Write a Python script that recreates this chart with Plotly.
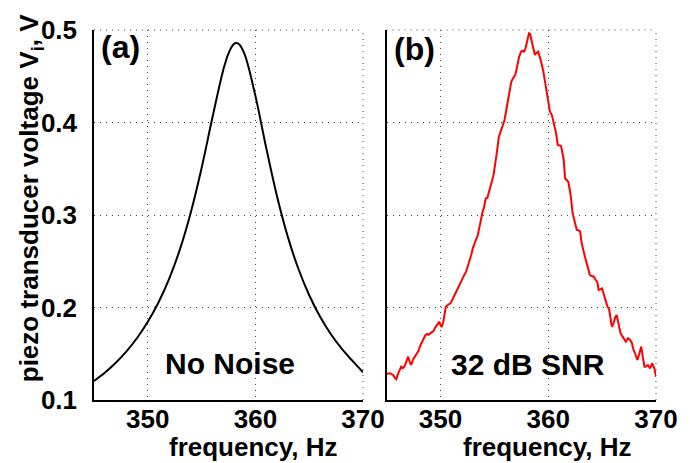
import plotly.graph_objects as go

# ---- data ----
freq_clean = [345, 346, 347, 348, 349, 350, 351, 352, 353, 354, 355, 356, 357, 357.5,
              358, 358.24, 358.5, 359, 360, 361, 362, 363, 364, 365, 366, 367, 368, 369, 370]
volt_clean = [0.1205, 0.1294, 0.1400, 0.1523, 0.1670, 0.1845, 0.2056, 0.2315, 0.2634, 0.3030,
              0.3509, 0.4051, 0.4563, 0.4748, 0.4848, 0.4860, 0.4845, 0.4736, 0.4288, 0.3728,
              0.3206, 0.2769, 0.2416, 0.2132, 0.1902, 0.1713, 0.1557, 0.1425, 0.1300]

freq_noisy = [345.0, 345.2, 345.4, 345.6, 345.8, 345.9, 346.05, 346.2, 346.35, 346.5, 346.65,
              346.8, 347.0, 347.15, 347.28, 347.45, 347.6, 347.82, 347.95, 348.13, 348.3, 348.45,
              348.6, 348.75, 348.9, 349.05, 349.2, 349.35, 349.5, 349.65, 349.8, 349.9, 350.0,
              350.12, 350.25, 350.4, 350.5, 350.65, 350.8, 350.92, 351.05, 351.17, 351.3, 351.45,
              351.62, 351.8, 352.0, 352.2, 352.38, 352.55, 352.69, 352.85, 353.0, 353.14, 353.3,
              353.45, 353.6, 353.75, 353.9, 354.05, 354.2, 354.35, 354.5, 354.66, 354.8, 354.95,
              355.11, 355.25, 355.42, 355.6, 355.81, 355.95, 356.1, 356.33, 356.45, 356.57,
              356.75, 356.94, 357.05, 357.15, 357.3, 357.48, 357.6, 357.75, 357.85, 358.0,
              358.12, 358.21, 358.32, 358.45, 358.61, 358.76, 358.9, 359.07, 359.18, 359.3,
              359.52, 359.73, 359.85, 359.98, 360.16, 360.34, 360.52, 360.73, 360.89, 361.05,
              361.19, 361.32, 361.44, 361.56, 361.7, 361.86, 362.0, 362.1, 362.26, 362.45,
              362.65, 362.8, 362.96, 363.1, 363.27, 363.42, 363.57, 363.72, 363.86, 364.05,
              364.22, 364.4, 364.55, 364.68, 364.85, 364.99, 365.15, 365.29, 365.5, 365.65,
              365.78, 365.9, 366.05, 366.2, 366.35, 366.5, 366.7, 366.9, 367.05, 367.2, 367.4,
              367.6, 367.75, 367.87, 368.05, 368.27, 368.45, 368.63, 368.78, 368.93, 369.03,
              369.25, 369.46, 369.64, 369.85, 370.0]
volt_noisy = [0.128, 0.129, 0.1285, 0.127, 0.1235, 0.1224, 0.128, 0.133, 0.136, 0.1345, 0.136,
              0.1405, 0.1468, 0.141, 0.1378, 0.1435, 0.146, 0.150, 0.153, 0.159, 0.163, 0.1665,
              0.170, 0.1715, 0.1705, 0.172, 0.1735, 0.1745, 0.178, 0.181, 0.183, 0.1847, 0.1805,
              0.179, 0.184, 0.197, 0.201, 0.2025, 0.2035, 0.2045, 0.207, 0.210, 0.2125, 0.2175,
              0.2207, 0.2255, 0.2316, 0.235, 0.2387, 0.245, 0.2495, 0.2565, 0.264, 0.2694, 0.2735,
              0.2775, 0.287, 0.2946, 0.303, 0.309, 0.318, 0.3185, 0.324, 0.3306, 0.3375, 0.345,
              0.3559, 0.369, 0.3847, 0.391, 0.3991, 0.403, 0.413, 0.4279, 0.436, 0.4441,
              0.448, 0.4514, 0.457, 0.464, 0.471, 0.4765, 0.4775, 0.4765, 0.4784, 0.4856,
              0.4925, 0.4964, 0.4955, 0.489, 0.479, 0.473, 0.475, 0.4766, 0.472, 0.4676,
              0.4568, 0.4423, 0.434, 0.4243, 0.4117, 0.4081, 0.3991, 0.3883, 0.3757, 0.3752,
              0.3746, 0.367, 0.3595, 0.3397, 0.338, 0.336, 0.327, 0.3198, 0.3018, 0.292,
              0.2838, 0.2835, 0.282, 0.270, 0.2604, 0.254, 0.2478, 0.241, 0.2351, 0.234,
              0.2333, 0.230, 0.2275, 0.2189, 0.2195, 0.2207, 0.2145, 0.2081, 0.2009, 0.198,
              0.187, 0.1793, 0.1825, 0.189, 0.1919, 0.183, 0.1725, 0.1685, 0.165, 0.163, 0.1667,
              0.165, 0.162, 0.1559, 0.1505, 0.1432, 0.150, 0.1577, 0.146, 0.136, 0.136,
              0.1378, 0.1342, 0.1396, 0.1342, 0.1252]

x_ticks = [350, 360, 370]
y_ticks = [0.1, 0.2, 0.3, 0.4, 0.5]
x_range = [345, 370]
y_range = [0.1, 0.5]

# ---- layout geometry (pixels) ----
W, H = 690, 463
ML, MR, MT, MB = 94, 23, 30, 63
PW, PH = W - ML - MR, H - MT - MB

def px(xp):
    return (xp - ML) / PW

def py(yp):
    return (H - MB - yp) / PH

FONT = "Liberation Sans, Arial, Helvetica, sans-serif"

fig = go.Figure()
fig.add_trace(go.Scatter(x=freq_clean, y=volt_clean, mode="lines",
                         line=dict(color="black", width=2, shape="spline"),
                         xaxis="x", yaxis="y", showlegend=False))
fig.add_trace(go.Scatter(x=freq_noisy, y=volt_noisy, mode="lines",
                         line=dict(color="#ff0000", width=2),
                         xaxis="x2", yaxis="y2", showlegend=False))

tickfont = dict(family=FONT, size=26, color="black", weight="bold")
grid = dict(showgrid=True, gridcolor="#444444", gridwidth=1, griddash="1px,5px")
xcommon = dict(range=x_range, tickmode="array", tickvals=x_ticks, ticks="",
               showline=True, linecolor="black", linewidth=1.5, zeroline=False,
               tickfont=tickfont, ticklabelstandoff=-5, **grid)
ycommon = dict(range=y_range, tickmode="array", tickvals=y_ticks, ticks="",
               showline=True, linecolor="black", linewidth=1.5, zeroline=False,
               tickfont=tickfont, ticklabelstandoff=10, **grid)

d1 = [0, px(368.3)]
d2 = [px(392.3), 1]

y2 = {k: v for k, v in ycommon.items() if k != "tickfont"}
fig.update_layout(
    width=W, height=H,
    margin=dict(l=ML, r=MR, t=MT, b=MB, pad=0),
    paper_bgcolor="white", plot_bgcolor="white",
    xaxis=dict(domain=d1, anchor="y", **xcommon),
    yaxis=dict(domain=[0, 1], anchor="x", **ycommon),
    xaxis2=dict(domain=d2, anchor="y2", **xcommon),
    yaxis2=dict(domain=[0, 1], anchor="x2", showticklabels=False, **y2),
)

# dotted top/right box edges
for xr, yr in (("x domain", "y domain"), ("x2 domain", "y2 domain")):
    fig.add_shape(type="line", xref=xr, yref=yr, x0=0, x1=1, y0=1, y1=1,
                  line=dict(color="#444444", width=1, dash="1px,5px"))
    fig.add_shape(type="line", xref=xr, yref=yr, x0=1, x1=1, y0=0, y1=1,
                  line=dict(color="#444444", width=1, dash="1px,5px"))

def note(text, xp, yp, size, angle=0):
    fig.add_annotation(text=text, xref="paper", yref="paper", x=px(xp), y=py(yp),
                       xanchor="center", yanchor="middle", showarrow=False, textangle=angle,
                       font=dict(family=FONT, size=size, color="black", weight="bold"))

note("(a)", 121.5, 47.5, 32)
note("(b)", 421, 49, 32)
note("No Noise", 233, 363, 30)
note("32 dB SNR", 537, 364, 30)
note("frequency, Hz", 257, 447, 26)
note("frequency, Hz", 556, 447, 26)
note("piezo transducer voltage V<sub>i</sub>, V", 29, 198, 26, angle=-90)

fig.write_html("out.html")
